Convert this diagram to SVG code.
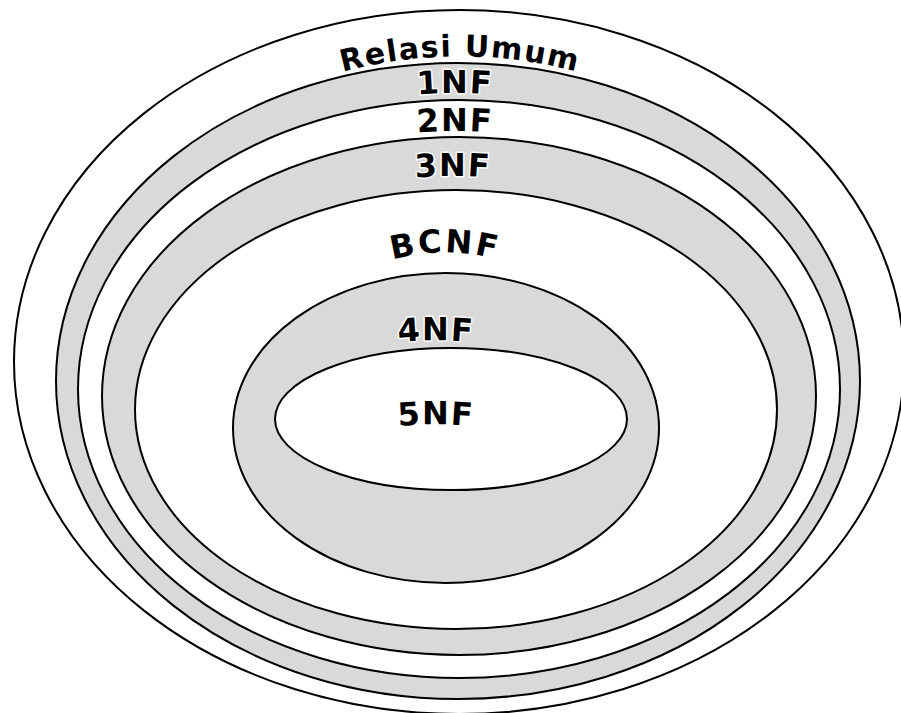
<svg xmlns="http://www.w3.org/2000/svg" width="901" height="713" viewBox="0 0 901 713">
  <style>
    .ring { stroke: #000; stroke-width: 2; }
    .white { fill: #fff; }
    .grey { fill: #d9d9d9; }
    .lbl { font-family: "DejaVu Sans", Verdana, sans-serif; font-weight: bold; fill: #000;
           stroke: #fff; stroke-width: 3; stroke-linejoin: round; paint-order: stroke fill;
           text-anchor: middle; }
  </style>
  <defs>
    <!-- arcs that the level names are set along -->
    <path id="arcRelasi" d="M210,132.2 A450,450 0 0 1 710,132.2"/>
    <path id="arc1NF" d="M305,118.7 A450,450 0 0 1 605,118.7"/>
    <path id="arc2NF" d="M305,156.7 A450,450 0 0 1 605,156.7"/>
    <path id="arc3NF" d="M303,201.7 A450,450 0 0 1 603,201.7"/>
    <path id="arcBCNF" d="M345,279.3 A200,200 0 0 1 545,279.3"/>
    <path id="arc4NF" d="M336,353.0 A400,400 0 0 1 536,353.0"/>
    <path id="arc5NF" d="M336,437.0 A400,400 0 0 1 536,437.0"/>
  </defs>

  <rect width="901" height="713" fill="#fff"/>

  <g id="relasi-umum">
    <ellipse class="ring white" cx="459" cy="362" rx="445" ry="352"/>
  </g>
  <g id="nf1">
    <ellipse class="ring grey" cx="458" cy="381" rx="402" ry="318"/>
  </g>
  <g id="nf2">
    <ellipse class="ring white" cx="459" cy="389" rx="381" ry="289"/>
  </g>
  <g id="nf3">
    <ellipse class="ring grey" cx="459" cy="396" rx="357" ry="259"/>
  </g>
  <g id="bcnf">
    <ellipse class="ring white" cx="456" cy="409.5" rx="321" ry="219.5"/>
  </g>
  <g id="nf4">
    <ellipse class="ring grey" cx="446" cy="428" rx="213" ry="155"/>
  </g>
  <g id="nf5">
    <ellipse class="ring white" cx="451" cy="419" rx="176" ry="71"/>
  </g>

  <g id="labels">
    <text class="lbl" font-size="30" letter-spacing="1.5"><textPath href="#arcRelasi" startOffset="50%">Relasi Umum</textPath></text>
    <text class="lbl" font-size="32" letter-spacing="1.5"><textPath href="#arc1NF" startOffset="50%">1NF</textPath></text>
    <text class="lbl" font-size="32" letter-spacing="1.5"><textPath href="#arc2NF" startOffset="50%">2NF</textPath></text>
    <text class="lbl" font-size="32" letter-spacing="1.5"><textPath href="#arc3NF" startOffset="50%">3NF</textPath></text>
    <text class="lbl" font-size="32" letter-spacing="2.5"><textPath href="#arcBCNF" startOffset="50%">BCNF</textPath></text>
    <text class="lbl" font-size="32" letter-spacing="1.5"><textPath href="#arc4NF" startOffset="50%">4NF</textPath></text>
    <text class="lbl" font-size="32" letter-spacing="1.5"><textPath href="#arc5NF" startOffset="50%">5NF</textPath></text>
  </g>
</svg>
